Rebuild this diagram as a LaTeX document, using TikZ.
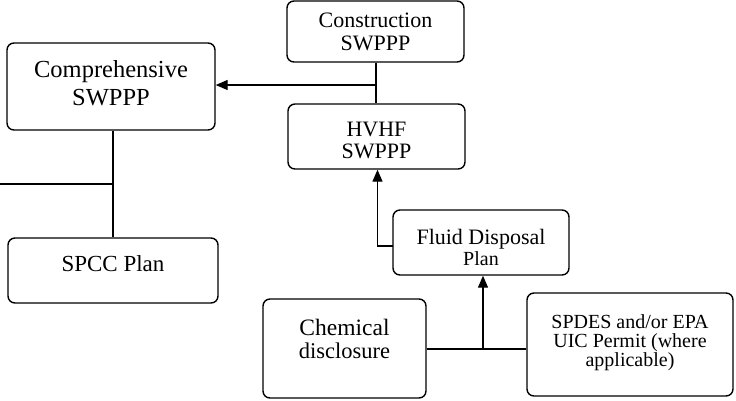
\documentclass[tikz,border=0pt]{standalone}
\usepackage{fontspec}
\setmainfont{Liberation Serif}
\usetikzlibrary{arrows.meta}
% #1: offset of first baseline below the box centre; #2: lines
\newcommand\boxtxt[2]{\raisebox{0pt}[\dimexpr20pt+#1\relax][\dimexpr20pt-#1\relax]{\begin{tabular}[t]{@{}c@{}}#2\end{tabular}}}
\begin{document}
\begin{tikzpicture}[x=1pt,y=-1pt,
  box/.style={draw, line width=1.4pt, rounded corners=7pt, align=center, inner sep=0pt},
  conn/.style={line width=1.3pt},
  arr/.style={conn, -{Triangle[length=12pt,width=10pt]}}]
\useasboundingbox (0,0) rectangle (736,400);
% boxes
\node[box, minimum width=208pt, minimum height=87pt, font=\fontsize{24.5}{28}\selectfont] (comp) at (111,86.5) {\boxtxt{-9pt}{Comprehensive\\SWPPP}};
\node[box, minimum width=210pt, minimum height=65pt, font=\fontsize{23}{26}\selectfont] (spcc) at (113,270.5) {\boxtxt{1pt}{SPCC Plan}};
\node[box, minimum width=177pt, minimum height=61pt, font=\fontsize{22}{23}\selectfont] (cons) at (375.5,31.5) {\boxtxt{-4pt}{Construction\\SWPPP}};
\node[box, minimum width=177pt, minimum height=65pt, font=\fontsize{22}{22}\selectfont] (hvhf) at (376.5,136.5) {\boxtxt{0pt}{HVHF\\SWPPP}};
\node[box, minimum width=176pt, minimum height=65pt, font=\fontsize{22}{21}\selectfont] (fluid) at (481,242.5) {\boxtxt{1.5pt}{Fluid Disposal\\{\fontsize{20}{21}\selectfont Plan}}};
\node[box, minimum width=163pt, minimum height=99pt, font=\fontsize{23.5}{23}\selectfont] (chem) at (344.5,348.5) {\boxtxt{-13.5pt}{Chemical\\{\fontsize{22.5}{23}\selectfont disclosure}}};
\node[box, minimum width=206pt, minimum height=103pt, font=\fontsize{20}{18}\selectfont] (spdes) at (630,344.5) {\boxtxt{-16.5pt}{SPDES and/or EPA\\UIC Permit (where\\applicable)}};
% junction coordinates
\coordinate (cj) at (376,85);
\coordinate (lj) at (113,184);
\coordinate (lft) at (0,184);
\coordinate (fw) at (393,246);
\coordinate (fk) at (377.5,246);
\coordinate (bj) at (483,349);
% connectors
\draw[conn] (cons.south -| cj) -- (hvhf.north -| cj);
\draw[arr] (cj) -- (cj -| comp.east);
\draw[conn] (comp.south -| lj) -- (spcc.north -| lj);
\draw[conn] (lft) -- (lj);
\draw[arr] (fw) -- (fk) -- (fk |- hvhf.south);
\draw[conn] (chem.east |- bj) -- (spdes.west |- bj);
\draw[arr] (bj) -- (bj |- fluid.south);
\end{tikzpicture}
\end{document}
